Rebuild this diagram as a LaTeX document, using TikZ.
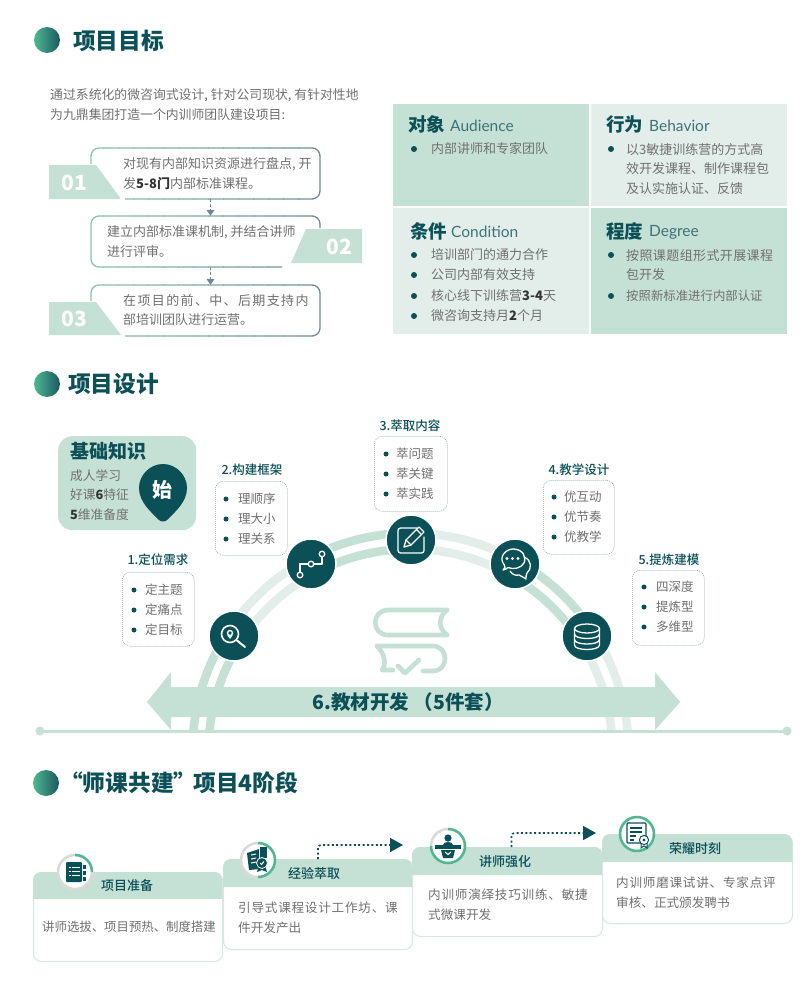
\documentclass[tikz,border=0pt]{standalone}
\usepackage{fontspec}
\setmainfont{Noto Sans CJK SC}
\newfontfamily\latinfont{Lato}
\newfontfamily\medfont{Noto Sans CJK SC Medium}
\usetikzlibrary{arrows.meta}

\definecolor{tealdark}{HTML}{0B5057}
\definecolor{headgreen}{HTML}{C5E0D4}
\definecolor{lightgreen}{HTML}{E3EEEB}
\definecolor{bodygray}{HTML}{707070}
\definecolor{boldgray}{HTML}{333333}
\definecolor{boxgreen}{HTML}{8CC4AA}
\definecolor{boxslate}{HTML}{6F8A96}
\definecolor{ringgreen}{HTML}{4FB88F}
\definecolor{ringgray}{HTML}{DADADA}
\definecolor{cardline}{HTML}{D5E8E3}

\tikzset{
    headdisc/.style={circle, minimum size=26, inner sep=0, left color=ringgreen, right color=tealdark!85!boxslate},
    headtitle/.style={anchor=west, inner sep=0, text=tealdark, font=\fontsize{22.7}{26}\selectfont\bfseries},
    bodytext/.style={anchor=west, inner sep=0, align=left, text=bodygray, font=\fontsize{13}{19.6}\selectfont},
    tagtext/.style={inner sep=0, text=white, font=\fontsize{21}{24}\selectfont\bfseries},
    stepbox/.style={minimum width=229, minimum height=51, inner sep=0},
    stepflow/.style={draw=boxslate, line width=0.8, dash pattern=on 3pt off 2pt, -{Triangle[length=6,width=8]}},
    cell/.style={anchor=north west, inner sep=0},
    celltitle/.style={anchor=west, inner sep=0, text=tealdark, font=\fontsize{18.5}{22}\selectfont\bfseries},
    cellword/.style={anchor=west, inner sep=0, text=tealdark!80, font=\fontsize{15.5}{18}\selectfont\latinfont},
    listbox/.style={draw=boxslate!80, fill=white, line width=0.5, dash pattern=on 1pt off 1pt, rounded corners=8, anchor=north west, inner sep=0},
    listtitle/.style={inner sep=0, text=tealdark, font=\fontsize{12.5}{15}\selectfont\medfont},
    listtext/.style={anchor=west, inner sep=0, text=bodygray, font=\fontsize{12.5}{15}\selectfont},
    iconcircle/.style={circle, fill=tealdark, draw=white, line width=1.5, minimum size=50, inner sep=0},
    iconline/.style={draw=white, line width=1.3, line cap=round, line join=round},
    cardbox/.style={draw=cardline, fill=white, line width=1, rounded corners=8, anchor=north west, inner sep=0},
    cardtitle/.style={inner sep=0, text=tealdark, font=\fontsize{13}{16}\selectfont\medfont},
    ringbase/.style={circle, fill=white, draw=ringgray, line width=2.5, minimum size=34, inner sep=0},
    stageflow/.style={draw=tealdark, line width=1.6, dash pattern=on 2pt off 2.4pt, rounded corners=3, -{Triangle[length=13,width=14]}},
    bookline/.style={draw=headgreen, line width=4.6, line cap=round, line join=round},
}

% one bullet with its text
\newcommand{\itemdot}[4]{
    \fill[tealdark] (#1,#2) circle (2.5);
    \node[listtext] (item-#1-#2) at (#3,#2) {#4};
}
\newcommand{\cellitem}[4]{
    \fill[tealdark] (#1,#2) circle (3);
    \node[bodytext] (item-#1-#2) at (#3,#2) {#4};
}
% first line of a paragraph, stretched to its width
\newcommand{\widen}[2]{{\addfontfeature{LetterSpace=#1}#2}}
% outline of a step, green on the left and slate on the right
\newcommand{\stepoutline}[1]{
    \foreach \k in {0,...,15} {
        \pgfmathsetmacro{\mixv}{100-\k*100/15}
        \begin{scope}
            \clip ({88+\k*15},140) rectangle ({88+\k*15+15.5},340);
            \draw[line width=1.3, rounded corners=8, color=boxgreen!\mixv!boxslate] #1;
        \end{scope}
    }
}
% one piece of the arch
\newcommand{\bandpiece}[4]{
    \draw[#4, line width=8.6] plot[domain=#2:#3, samples=40] ({410.5+#1*cos(\x)},{751-#1*sin(\x)});
}
% stage card with its header
\newcommand{\stagecard}[8]{
    \node[cardbox, minimum width=#3-#2, minimum height=#6-#4] (#1) at (#2,#4) {};
    \fill[headgreen] (#2,#5) [rounded corners=8] -- (#2,#4) -- (#3,#4) [sharp corners] -- (#3,#5) -- cycle;
    \node[cardtitle] (#1title) at (#7,{(#4+#5)/2+0.5}) {#8};
}
% ring round a stage icon
\newcommand{\stagering}[5]{
    \node[ringbase] (#1) at (#2,#3) {};
    \draw[ringgreen, line width=2.5] plot[domain=#4:#5, samples=40] ({#2+17*cos(\x)},{#3-17*sin(\x)});
}

\begin{document}
\begin{tikzpicture}[x=1pt, y=-1pt]
    \useasboundingbox (0,0) rectangle (810,987);
    \fill[white] (0,0) rectangle (810,987);

    % Headings
    \node[headdisc] (headone) at (47,40) {};
    \node[headtitle] (headonetext) at (73,41) {项目目标};
    \node[headdisc] (headtwo) at (47,384) {};
    \node[headtitle] (headtwotext) at (68,384) {项目设计};
    \node[headdisc] (headthree) at (46,783) {};
    \node[headtitle] (headthreetext) at (60,783) {“师课共建”\kern-3pt 项目4阶段};

    \node[bodytext, font=\fontsize{12.85}{19.6}\selectfont] (intro) at (50,104.5) {通过系统化的微咨询式设计, 针对公司现状, 有针对性地\\为九鼎集团打造一个内训师团队建设项目:};

    % Steps
    \node[stepbox] (stepone) at (205.5,173.5) {};
    \node[stepbox] (steptwo) at (205.5,241.5) {};
    \node[stepbox] (stepthree) at (205.5,310.5) {};
    \stepoutline{(91,164) -- (91,148) -- (320,148) -- (320,199) -- (125,199)}
    \stepoutline{(320,228) -- (320,216) -- (91,216) -- (91,267) -- (282,267)}
    \stepoutline{(91,301) -- (91,285) -- (320,285) -- (320,336) -- (125,336)}
    \draw[stepflow] ([xshift=5]stepone.south) -- ([xshift=5]steptwo.north);
    \draw[stepflow] ([xshift=5]steptwo.south) -- ([xshift=5]stepthree.north);

    \fill[headgreen] (49,165) -- (96,165) -- (121,199) -- (49,199) -- cycle;
    \fill[headgreen] (306,229) -- (362,229) -- (362,263) -- (291,263) -- cycle;
    \fill[headgreen] (49,302) -- (96,302) -- (121,335) -- (49,335) -- cycle;
    \node[tagtext] (tagone) at (74,183) {01};
    \node[tagtext] (tagtwo) at (339.5,247) {02};
    \node[tagtext] (tagthree) at (74.5,319) {03};

    \node[bodytext] (steponetext) at (123,173.5) {对现有内部知识资源进行盘点, 开\\发{\color{boldgray}\bfseries 5-8门}内部标准课程。};
    \node[bodytext] (steptwotext) at (107,241.5) {建立内部标准课机制, 并结合讲师\\进行评审。};
    \node[bodytext] (stepthreetext) at (123,310) {\widen{10.5}{在项目的前、中、后期支持内}\\部培训团队进行运营。};

    % Audience, behavior, condition, degree
    \node[cell, fill=headgreen, minimum width=196, minimum height=102] (audience) at (393,104) {};
    \node[cell, fill=lightgreen, minimum width=196, minimum height=102] (behavior) at (591,104) {};
    \node[cell, fill=lightgreen, minimum width=196, minimum height=126] (condition) at (393,208) {};
    \node[cell, fill=headgreen, minimum width=196, minimum height=126] (degree) at (591,208) {};

    \node[celltitle] (audiencetitle) at (408,124) {对象};
    \node[cellword] (audienceword) at (450,126) {Audience};
    \node[celltitle] (behaviortitle) at (606,124) {行为};
    \node[cellword] (behaviorword) at (649,126) {Behavior};
    \node[celltitle] (conditiontitle) at (410,231) {条件};
    \node[cellword] (conditionword) at (451,232) {Condition};
    \node[celltitle] (degreetitle) at (606,231) {程度};
    \node[cellword] (degreeword) at (649,232) {Degree};

    \cellitem{414}{149}{431}{内部讲师和专家团队}
    \fill[tealdark] (611,149) circle (3);
    \node[bodytext] (behaviortext) at (626,169) {以3敏捷训练营的方式高\\效开发课程、制作课程包\\及认实施认证、反馈};
    \cellitem{414}{255}{431}{培训部门的通力合作}
    \cellitem{414}{275}{431}{公司内部有效支持}
    \cellitem{414}{296}{431}{核心线下训练营{\color{boldgray}\bfseries 3-4}天}
    \cellitem{414}{316}{431}{微咨询支持月{\color{boldgray}\bfseries 2}个月}
    \fill[tealdark] (611,255) circle (3);
    \node[bodytext] (degreetext) at (626,265) {\widen{3}{按照课题组形式开展课程}\\包开发};
    \cellitem{611}{296}{626}{\fontsize{12.4}{15}\selectfont 按照新标准进行内部认证}

    % Arch
    \begin{scope}
        \clip (0,400) rectangle (810,731);
        \foreach \r in {218,202} {
            \bandpiece{\r}{147}{180}{headgreen}
            \bandpiece{\r}{118}{147}{lightgreen}
            \bandpiece{\r}{89}{118}{headgreen}
            \bandpiece{\r}{61}{89}{lightgreen}
            \bandpiece{\r}{33}{61}{headgreen}
            \bandpiece{\r}{0}{33}{lightgreen}
        }
    \end{scope}

    % Axis
    \draw[headgreen, line width=3] (40,731) -- (787,731);
    \fill[headgreen] (40,731) circle (4.5);
    \fill[headgreen] (787,731) circle (4.5);

    % Book
    \draw[bookline] (447,610) -- (388,610) .. controls (371,610) and (371,635) .. (388,635) -- (447,635);
    \draw[bookline] (447,610) .. controls (438,617) and (438,628) .. (447,635);
    \draw[bookline] (377,646) -- (433,646) .. controls (449,646) and (449,671) .. (433,671) -- (423,671);
    \draw[bookline] (377,646) .. controls (386,655) and (386,665) .. (382,670) -- (393,670);
    \draw[bookline] (398,666) -- (405,673) -- (419,660);

    % Big arrow
    \fill[headgreen] (147,702) -- (171,672) -- (171,687) -- (655,687) -- (655,672) -- (680,702) -- (655,730) -- (655,717) -- (171,717) -- (171,730) -- cycle;
    \node[inner sep=0, text=tealdark, font=\fontsize{19.5}{22}\selectfont\bfseries] (bigarrow) at (408,702) {6.教材开发 （5件套）};

    % Basics
    \node[cell, fill=headgreen, rounded corners=14, minimum width=138, minimum height=94] (basics) at (58,436) {};
    \node[anchor=west, inner sep=0, text=tealdark, font=\fontsize{19}{22}\selectfont\bfseries] (basicstitle) at (70,451) {基础知识};
    \node[bodytext, font=\fontsize{12.7}{19.8}\selectfont] (basicstext) at (70,495) {成人学习\\好课{\color{boldgray}\bfseries 6}特征\\{\color{boldgray}\bfseries 5}维准备度};
    \fill[tealdark] (163,464) .. controls (176,464) and (187,475) .. (187,488) .. controls (187,502) and (175,512) .. (167,520) .. controls (165,522) and (161,522) .. (159,520) .. controls (151,512) and (139,502) .. (139,488) .. controls (139,475) and (150,464) .. (163,464) -- cycle;
    \node[inner sep=0, text=white, font=\fontsize{20}{24}\selectfont\bfseries] (pintext) at (162,490) {始};

    % Lists
    \node[listbox, minimum width=72, minimum height=74] (listone) at (122,572) {};
    \node[listtitle] (listonetitle) at (158,560) {1.定位需求};
    \foreach \ty/\tx in {590/定主题,610/定痛点,630/定目标} {\itemdot{134}{\ty}{145}{\tx}}

    \node[listbox, minimum width=72, minimum height=74] (listtwo) at (215,481) {};
    \node[listtitle] (listtwotitle) at (252,470) {2.构建框架};
    \foreach \ty/\tx in {499/理顺序,519/理大小,539/理关系} {\itemdot{226}{\ty}{238}{\tx}}

    \node[listbox, minimum width=73, minimum height=75] (listthree) at (374,436) {};
    \node[listtitle] (listthreetitle) at (410,426) {3.萃取内容};
    \foreach \ty/\tx in {454/萃问题,474/萃关键,494/萃实践} {\itemdot{386}{\ty}{396}{\tx}}

    \node[listbox, minimum width=71, minimum height=74] (listfour) at (543,480) {};
    \node[listtitle] (listfourtitle) at (579,470) {4.教学设计};
    \foreach \ty/\tx in {497/优互动,517/优节奏,537/优教学} {\itemdot{554}{\ty}{564}{\tx}}

    \node[listbox, minimum width=72, minimum height=75] (listfive) at (632,570) {};
    \node[listtitle] (listfivetitle) at (669,560) {5.提炼建模};
    \foreach \ty/\tx in {587/四深度,607/提炼型,627/多维型} {\itemdot{644}{\ty}{656}{\tx}}

    % Icons on the arch
    \node[iconcircle] (needicon) at (234,636) {};
    \begin{scope}[shift={(234,636)}]
        \draw[iconline, line width=1.6] (-4,-2) circle (8.5);
        \draw[iconline, line width=2] (3,4.5) -- (11,11);
        \draw[iconline] (-4,-3) circle (2.5);
        \draw[iconline] (-6,-1) -- (-4,2) -- (-2,-1);
    \end{scope}

    \node[iconcircle] (frameicon) at (311,564) {};
    \begin{scope}[shift={(311,564)}]
        \draw[iconline] (-11,11) -- (-11,0) -- (11,0) -- (11,-10);
        \foreach \px/\py in {-11/11,0/0,11/-10} {\filldraw[white, fill=tealdark, line width=1.3] (\px,\py) circle (2.8);}
    \end{scope}

    \node[iconcircle] (extracticon) at (411,540) {};
    \begin{scope}[shift={(411,540)}]
        \draw[iconline, rounded corners=2.5] (6,-12) -- (-13,-12) -- (-13,13) -- (13,13) -- (13,-3);
        \draw[iconline] (-7,7) -- (-5,0) -- (8,-13) -- (13,-8) -- (0,5) -- cycle;
        \draw[iconline] (-5,0) -- (0,5);
        \draw[iconline] (5.5,-10.5) -- (10.5,-5.5);
    \end{scope}

    \node[iconcircle] (chaticon) at (515,564) {};
    \begin{scope}[shift={(515,564)}]
        \draw[iconline] (-12,6) .. controls (-9.5,3.5) and (-9.5,2.5) .. (-11,0.5) .. controls (-17,-7) and (-9,-15) .. (-2,-15) .. controls (7,-15) and (12,-8) .. (9,-1) .. controls (6,4) and (-1,6) .. (-7,3.5) .. controls (-9,5) and (-10,6) .. (-12,6) -- cycle;
        \foreach \px in {-8,-2.5,3} {\fill[white] (\px,-5.5) circle (1.7);}
        \draw[iconline] (9,-7) .. controls (17,-4) and (17,5) .. (12,9) .. controls (11,11) and (11,13) .. (11,15) .. controls (8,13) and (6,12) .. (4,11) .. controls (0,12) and (-3,10) .. (-5,7);
    \end{scope}

    \node[iconcircle] (dataicon) at (587,636) {};
    \begin{scope}[shift={(587,636)}]
        \draw[iconline] (0,-7.5) ellipse (12.5 and 4.5);
        \draw[iconline] (-12.5,-7.5) -- (-12.5,9) .. controls (-12.5,15) and (12.5,15) .. (12.5,9) -- (12.5,-7.5);
        \draw[iconline] (-12.5,-2) .. controls (-12.5,4) and (12.5,4) .. (12.5,-2);
        \draw[iconline] (-12.5,3.5) .. controls (-12.5,9.5) and (12.5,9.5) .. (12.5,3.5);
    \end{scope}

    % Stage cards
    \stagecard{stageone}{33}{222}{872}{899}{961}{127}{项目准备}
    \stagecard{stagetwo}{223}{412}{859}{887}{949}{314}{经验萃取}
    \stagecard{stagethree}{412}{602}{847}{875}{936}{505}{讲师强化}
    \stagecard{stagefour}{602}{792}{834}{862}{923}{695}{荣耀时刻}

    \node[bodytext, font=\fontsize{12.4}{20}\selectfont] (stageonetext) at (42,927) {讲师选拔、项目预热、制度搭建};
    \node[bodytext, font=\fontsize{12.6}{20}\selectfont] (stagetwotext) at (238,918) {\widen{6}{引导式课程设计工作坊、课}\\件开发产出};
    \node[bodytext, font=\fontsize{12.6}{20}\selectfont] (stagethreetext) at (428,905) {\widen{6}{内训师演绎技巧训练、敏捷}\\式微课开发};
    \node[bodytext, font=\fontsize{12.6}{20}\selectfont] (stagefourtext) at (616,893) {\widen{6}{内训师磨课试讲、专家点评}\\审核、正式颁发聘书};

    \coordinate (stagetwotip) at (403,845);
    \coordinate (stagethreetip) at (596,833);
    \draw[stageflow] (stagetwo.north) |- (stagetwotip);
    \draw[stageflow] ([xshift=4]stagethree.north) |- (stagethreetip);

    % Stage icons
    \stagering{ringone}{75}{872}{0}{90}
    \begin{scope}[shift={(75,872)}]
        \fill[tealdark, rounded corners=1] (-9,-10) rectangle (7,10);
        \foreach \py in {-5,-1,3} {\draw[white, line width=1] (-6.5,\py) -- (-4.5,\py); \draw[white, line width=1] (-3,\py) -- (4.5,\py);}
        \foreach \py in {-7,-1,5} {\fill[tealdark] (8,\py) rectangle (10.5,{\py+4});}
    \end{scope}

    \stagering{ringtwo}{258}{860}{-90}{90}
    \begin{scope}[shift={(258,860)}]
        \fill[tealdark] (-11,-7) -- (1,-11) -- (1,9) -- (-9,10) -- cycle;
        \fill[tealdark] (2,-13) -- (9,-13) -- (9,-2) -- (2,-2) -- cycle;
        \foreach \py in {-5,-1,3} {\draw[white, line width=1] (-7,\py) -- (-2,{\py-1});}
        \fill[tealdark] (-1,12) -- (1,5) -- (7,5) -- (9,12) -- (4,10) -- cycle;
        \filldraw[tealdark, draw=white, line width=0.8] (4,3) circle (5.5);
        \draw[white, line width=1] (2,3) -- (3.5,4.5) -- (6,1.5);
    \end{scope}

    \stagering{ringthree}{448}{846}{-180}{90}
    \begin{scope}[shift={(448,846)}]
        \fill[tealdark] (0,-8) circle (3.6);
        \fill[tealdark] (-5,-1) .. controls (-5,-5) and (5,-5) .. (5,-1) -- cycle;
        \fill[tealdark] (-13,-1) rectangle (13,3);
        \fill[tealdark] (-7,4) -- (7,4) -- (5,12) -- (-5,12) -- cycle;
        \draw[white, line width=1] (-3,6) -- (0,8.5) -- (3,6);
    \end{scope}

    \stagering{ringfour}{637}{834}{-270}{90}
    \begin{scope}[shift={(637,834)}]
        \draw[tealdark, line width=1.3, rounded corners=1] (-10,-11) rectangle (9,9);
        \foreach \py/\pe in {-6/5,-2/5,2/-1,6/-3} {\draw[tealdark, line width=1.2] (-7,\py) -- (\pe,\py);}
        \filldraw[tealdark, fill=white, line width=1] (7,6) circle (4.6);
        \fill[tealdark] (7,6) circle (1.7);
        \draw[tealdark, line width=1] (4,10) -- (4,14) -- (7,12) -- (10,14) -- (10,10);
    \end{scope}
\end{tikzpicture}
\end{document}
